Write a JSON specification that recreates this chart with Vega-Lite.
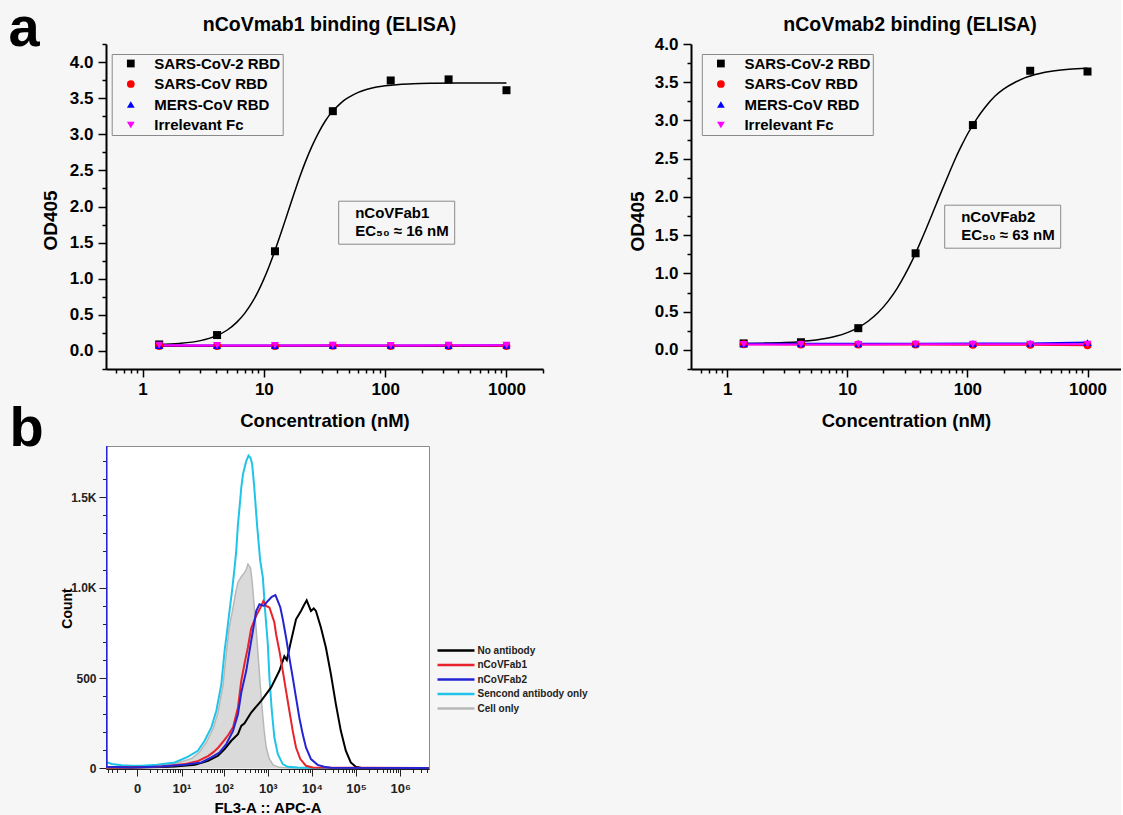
{
 "$schema": "https://vega.github.io/schema/vega-lite/v6.json",
 "background": "#f6f6f6",
 "padding": {"left": 8, "top": 0, "right": 0, "bottom": 0},
 "config": {
  "font": "Liberation Sans",
  "view": {"stroke": null},
  "axis": {"labelFont": "Liberation Sans", "titleFont": "Liberation Sans", "labelFontWeight": "bold", "titleFontWeight": "bold", "labelColor": "#000", "titleColor": "#000", "domainColor": "#000", "tickColor": "#000", "grid": false, "labelOverlap": false, "labelFlush": false, "labelBound": false},
  "legend": {"labelFont": "Liberation Sans", "labelFontWeight": "bold", "labelColor": "#000", "titleFont": "Liberation Sans"},
  "title": {"font": "Liberation Sans", "fontWeight": "bold", "color": "#000"}
 },
 "datasets": {
  "elisa1": [
   {"series": "SARS-CoV-2 RBD", "conc": 1.372, "od": 0.09}, {"series": "SARS-CoV-2 RBD", "conc": 4.115, "od": 0.22}, {"series": "SARS-CoV-2 RBD", "conc": 12.35, "od": 1.38}, {"series": "SARS-CoV-2 RBD", "conc": 37.04, "od": 3.32}, {"series": "SARS-CoV-2 RBD", "conc": 111.1, "od": 3.745}, {"series": "SARS-CoV-2 RBD", "conc": 333.3, "od": 3.76}, {"series": "SARS-CoV-2 RBD", "conc": 1000, "od": 3.61},
   {"series": "SARS-CoV RBD", "conc": 1.372, "od": 0.07}, {"series": "SARS-CoV RBD", "conc": 4.115, "od": 0.068}, {"series": "SARS-CoV RBD", "conc": 12.35, "od": 0.07}, {"series": "SARS-CoV RBD", "conc": 37.04, "od": 0.071}, {"series": "SARS-CoV RBD", "conc": 111.1, "od": 0.069}, {"series": "SARS-CoV RBD", "conc": 333.3, "od": 0.07}, {"series": "SARS-CoV RBD", "conc": 1000, "od": 0.068},
   {"series": "MERS-CoV RBD", "conc": 1.372, "od": 0.075}, {"series": "MERS-CoV RBD", "conc": 4.115, "od": 0.074}, {"series": "MERS-CoV RBD", "conc": 12.35, "od": 0.076}, {"series": "MERS-CoV RBD", "conc": 37.04, "od": 0.075}, {"series": "MERS-CoV RBD", "conc": 111.1, "od": 0.077}, {"series": "MERS-CoV RBD", "conc": 333.3, "od": 0.076}, {"series": "MERS-CoV RBD", "conc": 1000, "od": 0.078},
   {"series": "Irrelevant Fc", "conc": 1.372, "od": 0.078}, {"series": "Irrelevant Fc", "conc": 4.115, "od": 0.076}, {"series": "Irrelevant Fc", "conc": 12.35, "od": 0.077}, {"series": "Irrelevant Fc", "conc": 37.04, "od": 0.078}, {"series": "Irrelevant Fc", "conc": 111.1, "od": 0.077}, {"series": "Irrelevant Fc", "conc": 333.3, "od": 0.079}, {"series": "Irrelevant Fc", "conc": 1000, "od": 0.078}
  ],
  "elisa2": [
   {"series": "SARS-CoV-2 RBD", "conc": 1.372, "od": 0.085}, {"series": "SARS-CoV-2 RBD", "conc": 4.115, "od": 0.1}, {"series": "SARS-CoV-2 RBD", "conc": 12.35, "od": 0.284}, {"series": "SARS-CoV-2 RBD", "conc": 37.04, "od": 1.263}, {"series": "SARS-CoV-2 RBD", "conc": 111.1, "od": 2.94}, {"series": "SARS-CoV-2 RBD", "conc": 333.3, "od": 3.65}, {"series": "SARS-CoV-2 RBD", "conc": 1000, "od": 3.64},
   {"series": "SARS-CoV RBD", "conc": 1.372, "od": 0.075}, {"series": "SARS-CoV RBD", "conc": 4.115, "od": 0.072}, {"series": "SARS-CoV RBD", "conc": 12.35, "od": 0.07}, {"series": "SARS-CoV RBD", "conc": 37.04, "od": 0.07}, {"series": "SARS-CoV RBD", "conc": 111.1, "od": 0.068}, {"series": "SARS-CoV RBD", "conc": 333.3, "od": 0.066}, {"series": "SARS-CoV RBD", "conc": 1000, "od": 0.06},
   {"series": "MERS-CoV RBD", "conc": 1.372, "od": 0.08}, {"series": "MERS-CoV RBD", "conc": 4.115, "od": 0.079}, {"series": "MERS-CoV RBD", "conc": 12.35, "od": 0.08}, {"series": "MERS-CoV RBD", "conc": 37.04, "od": 0.081}, {"series": "MERS-CoV RBD", "conc": 111.1, "od": 0.082}, {"series": "MERS-CoV RBD", "conc": 333.3, "od": 0.085}, {"series": "MERS-CoV RBD", "conc": 1000, "od": 0.095},
   {"series": "Irrelevant Fc", "conc": 1.372, "od": 0.072}, {"series": "Irrelevant Fc", "conc": 4.115, "od": 0.071}, {"series": "Irrelevant Fc", "conc": 12.35, "od": 0.072}, {"series": "Irrelevant Fc", "conc": 37.04, "od": 0.073}, {"series": "Irrelevant Fc", "conc": 111.1, "od": 0.073}, {"series": "Irrelevant Fc", "conc": 333.3, "od": 0.074}, {"series": "Irrelevant Fc", "conc": 1000, "od": 0.074}
  ],
  "fit1": [
   {"conc": 1.37, "od": 0.089}, {"conc": 2, "od": 0.104}, {"conc": 3, "od": 0.143}, {"conc": 4, "od": 0.205}, {"conc": 5, "od": 0.29}, {"conc": 6, "od": 0.399}, {"conc": 7, "od": 0.527}, {"conc": 8, "od": 0.672}, {"conc": 9, "od": 0.829}, {"conc": 10, "od": 0.995}, {"conc": 11, "od": 1.163}, {"conc": 12, "od": 1.332}, {"conc": 13, "od": 1.497}, {"conc": 14, "od": 1.656}, {"conc": 15, "od": 1.808}, {"conc": 16, "od": 1.953}, {"conc": 18, "od": 2.21}, {"conc": 20, "od": 2.432}, {"conc": 22, "od": 2.618}, {"conc": 25, "od": 2.84}, {"conc": 28, "od": 3.01}, {"conc": 32, "od": 3.18}, {"conc": 36, "od": 3.3}, {"conc": 40, "od": 3.38}, {"conc": 45, "od": 3.46}, {"conc": 50, "od": 3.51}, {"conc": 60, "od": 3.58}, {"conc": 70, "od": 3.62}, {"conc": 85, "od": 3.654}, {"conc": 100, "od": 3.672}, {"conc": 130, "od": 3.69}, {"conc": 170, "od": 3.7}, {"conc": 250, "od": 3.706}, {"conc": 400, "od": 3.709}, {"conc": 1000, "od": 3.71}
  ],
  "fit2": [
   {"conc": 1.37, "od": 0.084}, {"conc": 2, "od": 0.088}, {"conc": 3, "od": 0.096}, {"conc": 4, "od": 0.107}, {"conc": 6, "od": 0.138}, {"conc": 8, "od": 0.177}, {"conc": 10, "od": 0.226}, {"conc": 12, "od": 0.282}, {"conc": 15, "od": 0.378}, {"conc": 18, "od": 0.485}, {"conc": 22, "od": 0.641}, {"conc": 26, "od": 0.805}, {"conc": 30, "od": 0.974}, {"conc": 35, "od": 1.18}, {"conc": 40, "od": 1.383}, {"conc": 45, "od": 1.57}, {"conc": 50, "od": 1.745}, {"conc": 55, "od": 1.905}, {"conc": 60, "od": 2.05}, {"conc": 70, "od": 2.3}, {"conc": 80, "od": 2.513}, {"conc": 90, "od": 2.68}, {"conc": 100, "od": 2.82}, {"conc": 120, "od": 3.025}, {"conc": 140, "od": 3.17}, {"conc": 170, "od": 3.32}, {"conc": 200, "od": 3.41}, {"conc": 250, "od": 3.5}, {"conc": 300, "od": 3.557}, {"conc": 400, "od": 3.615}, {"conc": 500, "od": 3.644}, {"conc": 700, "od": 3.67}, {"conc": 1000, "od": 3.684}
  ],
  "note1": [{"note": "nCoVFab1"}, {"note": "EC₅₀ ≈ 16 nM"}],
  "note2": [{"note": "nCoVFab2"}, {"note": "EC₅₀ ≈ 63 nM"}],
  "letters": [{"letter": "a", "fl": -400, "count": 3993}, {"letter": "b", "fl": -350, "count": 1783}],
  "flow": [
   {"series": "Cell only", "fl": -4.5, "count": 10}, {"series": "Cell only", "fl": -1.36, "count": 8}, {"series": "Cell only", "fl": -0.36, "count": 8}, {"series": "Cell only", "fl": 1.24, "count": 12}, {"series": "Cell only", "fl": 2.83, "count": 18}, {"series": "Cell only", "fl": 5.5, "count": 26}, {"series": "Cell only", "fl": 8.4, "count": 33}, {"series": "Cell only", "fl": 17.6, "count": 55}, {"series": "Cell only", "fl": 27.2, "count": 90}, {"series": "Cell only", "fl": 39.6, "count": 145}, {"series": "Cell only", "fl": 56.5, "count": 220}, {"series": "Cell only", "fl": 73.6, "count": 310}, {"series": "Cell only", "fl": 95.8, "count": 460}, {"series": "Cell only", "fl": 114, "count": 640}, {"series": "Cell only", "fl": 133, "count": 780}, {"series": "Cell only", "fl": 162, "count": 890}, {"series": "Cell only", "fl": 182, "count": 960}, {"series": "Cell only", "fl": 210, "count": 1030}, {"series": "Cell only", "fl": 250, "count": 1060}, {"series": "Cell only", "fl": 296, "count": 1083}, {"series": "Cell only", "fl": 324, "count": 1100}, {"series": "Cell only", "fl": 354, "count": 1130}, {"series": "Cell only", "fl": 378, "count": 1120}, {"series": "Cell only", "fl": 405, "count": 1110}, {"series": "Cell only", "fl": 443, "count": 1030}, {"series": "Cell only", "fl": 491, "count": 900}, {"series": "Cell only", "fl": 546, "count": 770}, {"series": "Cell only", "fl": 605, "count": 620}, {"series": "Cell only", "fl": 672, "count": 470}, {"series": "Cell only", "fl": 744, "count": 330}, {"series": "Cell only", "fl": 826, "count": 210}, {"series": "Cell only", "fl": 917, "count": 120}, {"series": "Cell only", "fl": 1072, "count": 55}, {"series": "Cell only", "fl": 1320, "count": 20}, {"series": "Cell only", "fl": 1803, "count": 6}, {"series": "Cell only", "fl": 3366, "count": 3}, {"series": "Cell only", "fl": 4400000, "count": 2},
   {"series": "Sencond antibody only", "fl": -4.5, "count": 36}, {"series": "Sencond antibody only", "fl": -3.04, "count": 25}, {"series": "Sencond antibody only", "fl": -1.36, "count": 18}, {"series": "Sencond antibody only", "fl": -0.36, "count": 15}, {"series": "Sencond antibody only", "fl": 0.29, "count": 15}, {"series": "Sencond antibody only", "fl": 2, "count": 20}, {"series": "Sencond antibody only", "fl": 6.7, "count": 33}, {"series": "Sencond antibody only", "fl": 14.6, "count": 65}, {"series": "Sencond antibody only", "fl": 25, "count": 98}, {"series": "Sencond antibody only", "fl": 36, "count": 153}, {"series": "Sencond antibody only", "fl": 51.6, "count": 227}, {"series": "Sencond antibody only", "fl": 67.3, "count": 319}, {"series": "Sencond antibody only", "fl": 87.6, "count": 466}, {"series": "Sencond antibody only", "fl": 104, "count": 650}, {"series": "Sencond antibody only", "fl": 114, "count": 725}, {"series": "Sencond antibody only", "fl": 135, "count": 871}, {"series": "Sencond antibody only", "fl": 154, "count": 982}, {"series": "Sencond antibody only", "fl": 176, "count": 1110}, {"series": "Sencond antibody only", "fl": 192, "count": 1203}, {"series": "Sencond antibody only", "fl": 210, "count": 1350}, {"series": "Sencond antibody only", "fl": 228, "count": 1442}, {"series": "Sencond antibody only", "fl": 250, "count": 1553}, {"series": "Sencond antibody only", "fl": 273, "count": 1627}, {"series": "Sencond antibody only", "fl": 324, "count": 1700}, {"series": "Sencond antibody only", "fl": 365, "count": 1730}, {"series": "Sencond antibody only", "fl": 405, "count": 1718}, {"series": "Sencond antibody only", "fl": 443, "count": 1680}, {"series": "Sencond antibody only", "fl": 491, "count": 1560}, {"series": "Sencond antibody only", "fl": 574, "count": 1340}, {"series": "Sencond antibody only", "fl": 672, "count": 1150}, {"series": "Sencond antibody only", "fl": 773, "count": 1055}, {"series": "Sencond antibody only", "fl": 870, "count": 871}, {"series": "Sencond antibody only", "fl": 1002, "count": 687}, {"series": "Sencond antibody only", "fl": 1089, "count": 503}, {"series": "Sencond antibody only", "fl": 1233, "count": 319}, {"series": "Sencond antibody only", "fl": 1411, "count": 171}, {"series": "Sencond antibody only", "fl": 1685, "count": 80}, {"series": "Sencond antibody only", "fl": 2187, "count": 24}, {"series": "Sencond antibody only", "fl": 2836, "count": 9}, {"series": "Sencond antibody only", "fl": 4766, "count": 5}, {"series": "Sencond antibody only", "fl": 10390, "count": 3}, {"series": "Sencond antibody only", "fl": 4400000, "count": 3},
   {"series": "No antibody", "fl": -4.5, "count": 5}, {"series": "No antibody", "fl": -0.36, "count": 5}, {"series": "No antibody", "fl": 2.83, "count": 8}, {"series": "No antibody", "fl": 6.74, "count": 11}, {"series": "No antibody", "fl": 21.1, "count": 20}, {"series": "No antibody", "fl": 43.3, "count": 42}, {"series": "No antibody", "fl": 73.6, "count": 70}, {"series": "No antibody", "fl": 104, "count": 107}, {"series": "No antibody", "fl": 148, "count": 153}, {"series": "No antibody", "fl": 210, "count": 190}, {"series": "No antibody", "fl": 250, "count": 235}, {"series": "No antibody", "fl": 296, "count": 250}, {"series": "No antibody", "fl": 420, "count": 309}, {"series": "No antibody", "fl": 707, "count": 374}, {"series": "No antibody", "fl": 1189, "count": 448}, {"series": "No antibody", "fl": 1832, "count": 540}, {"series": "No antibody", "fl": 2376, "count": 620}, {"series": "No antibody", "fl": 2700, "count": 600}, {"series": "No antibody", "fl": 3366, "count": 705}, {"series": "No antibody", "fl": 4366, "count": 825}, {"series": "No antibody", "fl": 5657, "count": 871}, {"series": "No antibody", "fl": 6500, "count": 900}, {"series": "No antibody", "fl": 7613, "count": 930}, {"series": "No antibody", "fl": 8500, "count": 900}, {"series": "No antibody", "fl": 9514, "count": 871}, {"series": "No antibody", "fl": 11000, "count": 885}, {"series": "No antibody", "fl": 12340, "count": 871}, {"series": "No antibody", "fl": 16000, "count": 779}, {"series": "No antibody", "fl": 20750, "count": 669}, {"series": "No antibody", "fl": 26900, "count": 522}, {"series": "No antibody", "fl": 34900, "count": 356}, {"series": "No antibody", "fl": 45220, "count": 208}, {"series": "No antibody", "fl": 58600, "count": 98}, {"series": "No antibody", "fl": 76000, "count": 33}, {"series": "No antibody", "fl": 98600, "count": 9}, {"series": "No antibody", "fl": 127800, "count": 4}, {"series": "No antibody", "fl": 4400000, "count": 3},
   {"series": "nCoVFab1", "fl": -4.5, "count": 5}, {"series": "nCoVFab1", "fl": -0.36, "count": 5}, {"series": "nCoVFab1", "fl": 1.24, "count": 8}, {"series": "nCoVFab1", "fl": 2.83, "count": 11}, {"series": "nCoVFab1", "fl": 5.5, "count": 16}, {"series": "nCoVFab1", "fl": 12.1, "count": 24}, {"series": "nCoVFab1", "fl": 25.7, "count": 42}, {"series": "nCoVFab1", "fl": 44, "count": 70}, {"series": "nCoVFab1", "fl": 57.4, "count": 90}, {"series": "nCoVFab1", "fl": 74.8, "count": 116}, {"series": "nCoVFab1", "fl": 97.3, "count": 150}, {"series": "nCoVFab1", "fl": 126, "count": 185}, {"series": "nCoVFab1", "fl": 162, "count": 227}, {"series": "nCoVFab1", "fl": 210, "count": 337}, {"series": "nCoVFab1", "fl": 250, "count": 485}, {"series": "nCoVFab1", "fl": 296, "count": 580}, {"series": "nCoVFab1", "fl": 354, "count": 670}, {"series": "nCoVFab1", "fl": 420, "count": 775}, {"series": "nCoVFab1", "fl": 546, "count": 844}, {"series": "nCoVFab1", "fl": 682, "count": 890}, {"series": "nCoVFab1", "fl": 797, "count": 926}, {"series": "nCoVFab1", "fl": 917, "count": 899}, {"series": "nCoVFab1", "fl": 1089, "count": 890}, {"series": "nCoVFab1", "fl": 1299, "count": 834}, {"series": "nCoVFab1", "fl": 1411, "count": 807}, {"series": "nCoVFab1", "fl": 1543, "count": 742}, {"series": "nCoVFab1", "fl": 1832, "count": 650}, {"series": "nCoVFab1", "fl": 2187, "count": 540}, {"series": "nCoVFab1", "fl": 2595, "count": 429}, {"series": "nCoVFab1", "fl": 3081, "count": 319}, {"series": "nCoVFab1", "fl": 3677, "count": 208}, {"series": "nCoVFab1", "fl": 4366, "count": 116}, {"series": "nCoVFab1", "fl": 5457, "count": 52}, {"series": "nCoVFab1", "fl": 7336, "count": 15}, {"series": "nCoVFab1", "fl": 10390, "count": 5}, {"series": "nCoVFab1", "fl": 4400000, "count": 3},
   {"series": "nCoVFab2", "fl": -4.35, "count": 1790}, {"series": "nCoVFab2", "fl": -4.3, "count": 9}, {"series": "nCoVFab2", "fl": -0.36, "count": 5}, {"series": "nCoVFab2", "fl": 2.83, "count": 11}, {"series": "nCoVFab2", "fl": 12.1, "count": 20}, {"series": "nCoVFab2", "fl": 30.3, "count": 33}, {"series": "nCoVFab2", "fl": 51.6, "count": 61}, {"series": "nCoVFab2", "fl": 78.9, "count": 88}, {"series": "nCoVFab2", "fl": 114, "count": 135}, {"series": "nCoVFab2", "fl": 162, "count": 208}, {"series": "nCoVFab2", "fl": 210, "count": 300}, {"series": "nCoVFab2", "fl": 250, "count": 420}, {"series": "nCoVFab2", "fl": 324, "count": 540}, {"series": "nCoVFab2", "fl": 385, "count": 650}, {"series": "nCoVFab2", "fl": 459, "count": 760}, {"series": "nCoVFab2", "fl": 546, "count": 870}, {"series": "nCoVFab2", "fl": 647, "count": 908}, {"series": "nCoVFab2", "fl": 814, "count": 899}, {"series": "nCoVFab2", "fl": 1002, "count": 926}, {"series": "nCoVFab2", "fl": 1233, "count": 949}, {"series": "nCoVFab2", "fl": 1487, "count": 958}, {"series": "nCoVFab2", "fl": 1685, "count": 926}, {"series": "nCoVFab2", "fl": 1928, "count": 890}, {"series": "nCoVFab2", "fl": 2187, "count": 825}, {"series": "nCoVFab2", "fl": 2595, "count": 724}, {"series": "nCoVFab2", "fl": 3081, "count": 613}, {"series": "nCoVFab2", "fl": 3677, "count": 503}, {"series": "nCoVFab2", "fl": 4366, "count": 392}, {"series": "nCoVFab2", "fl": 5181, "count": 282}, {"series": "nCoVFab2", "fl": 6184, "count": 190}, {"series": "nCoVFab2", "fl": 7336, "count": 116}, {"series": "nCoVFab2", "fl": 9514, "count": 52}, {"series": "nCoVFab2", "fl": 13470, "count": 20}, {"series": "nCoVFab2", "fl": 19000, "count": 9}, {"series": "nCoVFab2", "fl": 26900, "count": 4}, {"series": "nCoVFab2", "fl": 4400000, "count": 3}
  ]
 },
 "bounds": "flush",
 "columns": 2,
 "spacing": {"row": 77, "column": 148},
 "resolve": {"scale": {"color": "independent", "shape": "independent", "strokeDash": "independent", "stroke": "independent"}},
 "concat": [
  {
   "width": 437, "height": 325,
   "title": {"text": "nCoVmab1 binding (ELISA)", "fontSize": 19.5, "frame": "group", "anchor": "middle", "offset": 0, "dx": 5},
   "encoding": {
    "x": {"field": "conc", "type": "quantitative", "scale": {"type": "log", "domain": [0.5, 2000], "nice": false},
     "axis": {"title": "Concentration (nM)", "values": [0.6, 0.7, 0.8, 0.9, 1, 2, 3, 4, 5, 6, 7, 8, 9, 10, 20, 30, 40, 50, 60, 70, 80, 90, 100, 200, 300, 400, 500, 600, 700, 800, 900, 1000, 2000],
      "labelExpr": "abs(log(datum.value)/LN10 - round(log(datum.value)/LN10)) < 0.001 ? format(datum.value, 'd') : ''",
      "tickSize": {"condition": {"test": "abs(log(datum.value)/LN10 - round(log(datum.value)/LN10)) < 0.001", "value": 8}, "value": 4},
      "labelFontSize": 17, "titleFontSize": 18.5, "domainWidth": 2, "tickWidth": 1.5, "labelPadding": 4, "titleY": 51, "titleBaseline": "middle"}},
    "y": {"field": "od", "type": "quantitative", "scale": {"domain": [-0.25, 4.25], "nice": false, "zero": false},
     "axis": {"title": "OD405", "values": [-0.25, 0, 0.25, 0.5, 0.75, 1, 1.25, 1.5, 1.75, 2, 2.25, 2.5, 2.75, 3, 3.25, 3.5, 3.75, 4, 4.25],
      "labelExpr": "abs(datum.value*2 - round(datum.value*2)) < 0.001 && datum.value >= 0 ? format(datum.value, '.1f') : ''",
      "tickSize": {"condition": {"test": "abs(datum.value*2 - round(datum.value*2)) < 0.001", "value": 8}, "value": 4},
      "labelFontSize": 17, "titleFontSize": 19, "domainWidth": 2, "tickWidth": 1.5, "labelPadding": 5, "titleX": -56, "titleY": 176, "titleBaseline": "middle"}}
   },
   "layer": [
    {"data": {"name": "fit1"}, "mark": {"type": "line", "color": "#000", "strokeWidth": 1.5, "interpolate": "monotone"}},
    {"data": {"name": "elisa1"}, "transform": [{"filter": "datum.series != 'SARS-CoV-2 RBD'"}], "mark": {"type": "line", "strokeWidth": 2},
     "encoding": {"stroke": {"field": "series", "type": "nominal", "scale": {"domain": ["SARS-CoV RBD", "MERS-CoV RBD", "Irrelevant Fc"], "range": ["#ff0000", "#0000ff", "#ff00ff"]}, "legend": null}}},
    {"data": {"name": "elisa1"}, "mark": {"type": "point", "filled": true, "size": 64, "opacity": 1},
     "encoding": {
      "color": {"field": "series", "type": "nominal", "scale": {"domain": ["SARS-CoV-2 RBD", "SARS-CoV RBD", "MERS-CoV RBD", "Irrelevant Fc"], "range": ["#000000", "#ff0000", "#0000ff", "#ff00ff"]},
       "legend": {"title": null, "orient": "none", "legendX": 5.7, "legendY": 10, "strokeColor": "#8a8a8a", "padding": 2, "symbolOffset": 9.6, "labelOffset": 16, "labelFontSize": 15, "rowPadding": 4.5, "symbolSize": 60}},
      "shape": {"field": "series", "type": "nominal", "scale": {"domain": ["SARS-CoV-2 RBD", "SARS-CoV RBD", "MERS-CoV RBD", "Irrelevant Fc"], "range": ["square", "circle", "triangle-up", "triangle-down"]},
       "legend": {"title": null, "orient": "none", "legendX": 5.7, "legendY": 10, "strokeColor": "#8a8a8a", "padding": 2, "symbolOffset": 9.6, "labelOffset": 16, "labelFontSize": 15, "rowPadding": 4.5, "symbolSize": 60}}
     }},
    {"data": {"name": "note1"}, "mark": {"type": "point", "opacity": 0},
     "encoding": {"strokeDash": {"field": "note", "type": "nominal", "scale": {"domain": ["nCoVFab1", "EC₅₀ ≈ 16 nM"]},
      "legend": {"title": null, "orient": "none", "legendX": 232.2, "legendY": 156.7, "strokeColor": "#8a8a8a", "padding": 5, "symbolOpacity": 0, "symbolSize": 4, "labelOffset": -3, "labelFontSize": 15, "rowPadding": 1.4}}}}
   ]
  },
  {
   "width": 430, "height": 325,
   "title": {"text": "nCoVmab2 binding (ELISA)", "fontSize": 19.5, "frame": "group", "anchor": "middle", "offset": 0, "dx": 4},
   "encoding": {
    "x": {"field": "conc", "type": "quantitative", "scale": {"type": "log", "domain": [0.5, 1900], "nice": false},
     "axis": {"title": "Concentration (nM)", "values": [0.6, 0.7, 0.8, 0.9, 1, 2, 3, 4, 5, 6, 7, 8, 9, 10, 20, 30, 40, 50, 60, 70, 80, 90, 100, 200, 300, 400, 500, 600, 700, 800, 900, 1000],
      "labelExpr": "abs(log(datum.value)/LN10 - round(log(datum.value)/LN10)) < 0.001 ? format(datum.value, 'd') : ''",
      "tickSize": {"condition": {"test": "abs(log(datum.value)/LN10 - round(log(datum.value)/LN10)) < 0.001", "value": 8}, "value": 4},
      "labelFontSize": 17, "titleFontSize": 18.5, "domainWidth": 2, "tickWidth": 1.5, "labelPadding": 4, "titleY": 51, "titleBaseline": "middle"}},
    "y": {"field": "od", "type": "quantitative", "scale": {"domain": [-0.25, 4.0], "nice": false, "zero": false},
     "axis": {"title": "OD405", "values": [-0.25, 0, 0.25, 0.5, 0.75, 1, 1.25, 1.5, 1.75, 2, 2.25, 2.5, 2.75, 3, 3.25, 3.5, 3.75, 4],
      "labelExpr": "abs(datum.value*2 - round(datum.value*2)) < 0.001 && datum.value >= 0 ? format(datum.value, '.1f') : ''",
      "tickSize": {"condition": {"test": "abs(datum.value*2 - round(datum.value*2)) < 0.001", "value": 8}, "value": 4},
      "labelFontSize": 17, "titleFontSize": 19, "domainWidth": 2, "tickWidth": 1.5, "labelPadding": 5, "titleX": -54, "titleY": 177, "titleBaseline": "middle"}}
   },
   "layer": [
    {"data": {"name": "fit2"}, "mark": {"type": "line", "color": "#000", "strokeWidth": 1.5, "interpolate": "monotone"}},
    {"data": {"name": "elisa2"}, "transform": [{"filter": "datum.series != 'SARS-CoV-2 RBD'"}], "mark": {"type": "line", "strokeWidth": 2},
     "encoding": {"stroke": {"field": "series", "type": "nominal", "scale": {"domain": ["SARS-CoV RBD", "MERS-CoV RBD", "Irrelevant Fc"], "range": ["#ff0000", "#0000ff", "#ff00ff"]}, "legend": null}}},
    {"data": {"name": "elisa2"}, "mark": {"type": "point", "filled": true, "size": 64, "opacity": 1},
     "encoding": {
      "color": {"field": "series", "type": "nominal", "scale": {"domain": ["SARS-CoV-2 RBD", "SARS-CoV RBD", "MERS-CoV RBD", "Irrelevant Fc"], "range": ["#000000", "#ff0000", "#0000ff", "#ff00ff"]},
       "legend": {"title": null, "orient": "none", "legendX": 10.8, "legendY": 10, "strokeColor": "#8a8a8a", "padding": 2, "symbolOffset": 9.6, "labelOffset": 16, "labelFontSize": 15, "rowPadding": 4.5, "symbolSize": 60}},
      "shape": {"field": "series", "type": "nominal", "scale": {"domain": ["SARS-CoV-2 RBD", "SARS-CoV RBD", "MERS-CoV RBD", "Irrelevant Fc"], "range": ["square", "circle", "triangle-up", "triangle-down"]},
       "legend": {"title": null, "orient": "none", "legendX": 10.8, "legendY": 10, "strokeColor": "#8a8a8a", "padding": 2, "symbolOffset": 9.6, "labelOffset": 16, "labelFontSize": 15, "rowPadding": 4.5, "symbolSize": 60}}
     }},
    {"data": {"name": "note2"}, "mark": {"type": "point", "opacity": 0},
     "encoding": {"strokeDash": {"field": "note", "type": "nominal", "scale": {"domain": ["nCoVFab2", "EC₅₀ ≈ 63 nM"]},
      "legend": {"title": null, "orient": "none", "legendX": 253.2, "legendY": 160.7, "strokeColor": "#8a8a8a", "padding": 5, "symbolOpacity": 0, "symbolSize": 4, "labelOffset": -3, "labelFontSize": 15, "rowPadding": 1.4}}}}
   ]
  },
  {
   "width": 323, "height": 323,
   "view": {"fill": "#ffffff", "stroke": "#8c8c8c", "strokeWidth": 1},
   "encoding": {
    "x": {"field": "fl", "type": "quantitative", "scale": {"type": "symlog", "constant": 1.1, "domain": [-4.5, 4500000], "nice": false, "zero": false},
     "axis": {"title": "FL3-A :: APC-A", "values": [-4, -3, -2, -1, 0, 1, 2, 3, 4, 5, 6, 7, 8, 9, 10, 20, 30, 40, 50, 60, 70, 80, 90, 100, 200, 300, 400, 500, 600, 700, 800, 900, 1000, 2000, 3000, 4000, 5000, 6000, 7000, 8000, 9000, 10000, 20000, 30000, 40000, 50000, 60000, 70000, 80000, 90000, 100000, 200000, 300000, 400000, 500000, 600000, 700000, 800000, 900000, 1000000, 2000000, 3000000, 4000000],
      "labelExpr": "datum.value == 0 ? '0' : ((datum.value >= 10 && abs(log(datum.value)/LN10 - round(log(datum.value)/LN10)) < 0.001) ? '10' + ['¹','²','³','⁴','⁵','⁶'][round(log(datum.value)/LN10) - 1] : '')",
      "tickSize": {"condition": {"test": "datum.value == 0 || (datum.value >= 10 && abs(log(datum.value)/LN10 - round(log(datum.value)/LN10)) < 0.001)", "value": 7}, "value": 3.5},
      "labelFontSize": 13, "titleFontSize": 15, "domainWidth": 1, "domainColor": "#222", "tickColor": "#222", "tickWidth": 1, "labelColor": "#222", "labelPadding": 6, "titleY": 38, "titleBaseline": "middle"}},
    "y": {"field": "count", "type": "quantitative", "scale": {"domain": [-3, 1783], "nice": false, "zero": false},
     "axis": {"title": "Count", "values": [0, 100, 200, 300, 400, 500, 600, 700, 800, 900, 1000, 1100, 1200, 1300, 1400, 1500, 1600, 1700],
      "labelExpr": "datum.value == 0 ? '0' : datum.value == 500 ? '500' : datum.value == 1000 ? '1.0K' : datum.value == 1500 ? '1.5K' : ''",
      "tickSize": {"condition": {"test": "datum.value % 500 == 0", "value": 7}, "value": 3.5},
      "labelFontSize": 12, "titleFontSize": 14, "domain": false, "tickColor": "#222", "tickWidth": 1, "labelColor": "#222", "labelPadding": 3, "titleX": -39, "titleY": 162, "titleBaseline": "middle"}},
    "color": {"field": "series", "type": "nominal", "scale": {"domain": ["No antibody", "nCoVFab1", "nCoVFab2", "Sencond antibody only", "Cell only"], "range": ["#000000", "#e8232b", "#2424d4", "#20c4e8", "#b8b8b8"]},
     "legend": {"title": null, "orient": "none", "legendX": 330, "legendY": 198, "symbolType": "M-3.7,0H3.7", "symbolSize": 100, "symbolStrokeWidth": 2.5, "symbolOffset": 13.5, "labelOffset": 15, "labelFontSize": 10, "labelColor": "#222", "rowPadding": 2.5, "padding": 0}}
   },
   "layer": [
    {"data": {"name": "flow"}, "transform": [{"filter": "datum.series == 'Cell only'"}], "mark": {"type": "area", "clip": true, "fillOpacity": 1}, "encoding": {"color": {"value": "#dadada"}}},
    {"data": {"name": "flow"}, "transform": [{"filter": "datum.series == 'Cell only'"}], "mark": {"type": "line", "clip": true, "strokeWidth": 1.5}},
    {"data": {"name": "flow"}, "transform": [{"filter": "datum.series == 'Sencond antibody only'"}], "mark": {"type": "line", "clip": true, "strokeWidth": 2}},
    {"data": {"name": "flow"}, "transform": [{"filter": "datum.series == 'No antibody'"}], "mark": {"type": "line", "clip": true, "strokeWidth": 2}},
    {"data": {"name": "flow"}, "transform": [{"filter": "datum.series == 'nCoVFab1'"}], "mark": {"type": "line", "clip": true, "strokeWidth": 2}},
    {"data": {"name": "flow"}, "transform": [{"filter": "datum.series == 'nCoVFab2'"}], "mark": {"type": "line", "clip": true, "strokeWidth": 2}},
    {"data": {"name": "letters"}, "mark": {"type": "text", "fontSize": 56, "fontWeight": "bold", "align": "center", "baseline": "alphabetic"}, "encoding": {"text": {"field": "letter"}, "color": {"value": "#000000"}}}
   ]
  }
 ]
}
